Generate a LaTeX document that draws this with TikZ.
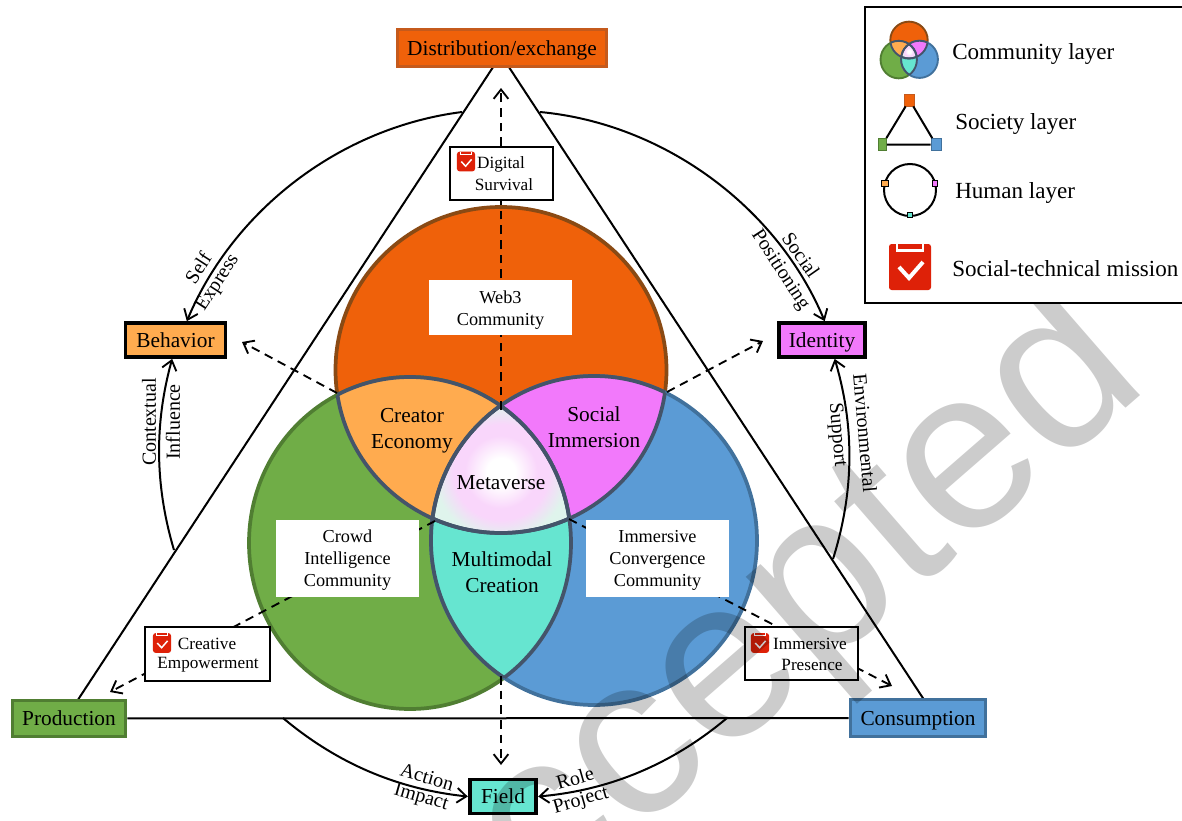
\documentclass[tikz,border=0pt]{standalone}
\usepackage{fontspec}
\setmainfont{Liberation Serif}
\newfontfamily\wmfont{Liberation Sans}
\usetikzlibrary{arrows.meta}

\definecolor{comOrange}{HTML}{EF610A}
\definecolor{comGreen}{HTML}{70AD47}
\definecolor{comBlue}{HTML}{5B9BD5}
\definecolor{lineOrange}{HTML}{8A4A14}
\definecolor{lineGreen}{HTML}{507E32}
\definecolor{lineBlue}{HTML}{41719C}
\definecolor{boxOrange}{HTML}{C55A1C}
\definecolor{lensOrange}{HTML}{FFAB4F}
\definecolor{lensPink}{HTML}{F279FB}
\definecolor{lensTeal}{HTML}{66E5D0}
\definecolor{lensSlate}{HTML}{44546A}
\definecolor{metaPink}{HTML}{F9D6FB}
\definecolor{metaMint}{HTML}{DFF4EC}
\definecolor{missionRed}{HTML}{DE2108}
\definecolor{wmGray}{HTML}{CCCCCC}

\pgfdeclareradialshading{metashade}{\pgfpoint{0bp}{0bp}}{color(0bp)=(white); color(5bp)=(white); color(13bp)=(metaPink); color(17bp)=(metaPink); color(24bp)=(metaMint); color(50bp)=(metaMint)}

\newcommand{\orangepath}{(501,370) ellipse [x radius=165.5,y radius=163]}
\newcommand{\greenpath}{(410,543) ellipse [x radius=161,y radius=166]}
\newcommand{\bluepath}{(594,540.5) ellipse [x radius=163,y radius=164.5]}

% the three circles with their overlaps, #1 is the line width
\newcommand{\vennregions}[1]{
\draw[line width=#1,lineOrange,fill=comOrange] \orangepath;
\draw[line width=#1,lineGreen,fill=comGreen] \greenpath;
\draw[line width=#1,lineBlue,fill=comBlue] \bluepath;
\begin{scope}\clip \orangepath; \fill[lensOrange] \greenpath; \end{scope}
\begin{scope}\clip \orangepath; \fill[lensPink] \bluepath; \end{scope}
\begin{scope}\clip \greenpath; \fill[lensTeal] \bluepath; \end{scope}
\begin{scope}\clip \orangepath; \clip \greenpath; \clip \bluepath;
\shade[shading=metashade] (431,402) rectangle (571,542);
\end{scope}
\begin{scope}\clip \orangepath; \draw[line width=#1,lensSlate] \greenpath; \draw[line width=#1,lensSlate] \bluepath; \end{scope}
\begin{scope}\clip \greenpath; \draw[line width=#1,lensSlate] \orangepath; \draw[line width=#1,lensSlate] \bluepath; \end{scope}
\begin{scope}\clip \bluepath; \draw[line width=#1,lensSlate] \orangepath; \draw[line width=#1,lensSlate] \greenpath; \end{scope}
}

\tikzset{
  sideline/.style={line width=1.5pt,black},
  humanarc/.style={line width=1.5pt,black,-{Straight Barb[length=7pt,width=11pt,line width=1.4pt]},looseness=0.9},
  missionarrow/.style={line width=1.4pt,black,dash pattern=on 6.5pt off 4.5pt,-{Straight Barb[length=7pt,width=11pt,line width=1.4pt]}},
  societybox/.style={draw,line width=2.4pt,inner sep=0pt,font=\fontsize{16}{19.5}\selectfont,minimum height=27.5pt,text height=13pt,text depth=2.5pt},
  humanbox/.style={draw=black,line width=2.8pt,inner sep=0pt,font=\fontsize{16}{19.5}\selectfont,minimum height=25.5pt,text height=13pt,text depth=2.5pt},
  lenstext/.style={inner sep=0pt,align=center,font=\fontsize{16}{19.5}\selectfont},
  whitebox/.style={fill=white,inner sep=0pt,align=center,font=\fontsize{13.7}{16.5}\selectfont,minimum width=107.2pt},
  missionbox/.style={draw=black,fill=white,line width=1.5pt,inner sep=0pt,minimum height=39.8pt},
  missiontext/.style={inner sep=0pt,font=\fontsize{12.9}{15}\selectfont},
  arctext/.style={inner sep=0pt,font=\fontsize{15}{18}\selectfont},
  legendtext/.style={inner sep=0pt,anchor=west,font=\fontsize{17.3}{20}\selectfont},
  legendsquare/.style={draw,line width=0.6pt,inner sep=0pt},
  pics/missionicon/.style={code={
    \fill[missionRed,rounded corners=2pt] (-21,-23) rectangle (21,23);
    \draw[white,line width=#1*0.6] (-13,23) -- (-13,16.5) -- (13,16.5) -- (13,23);
    \draw[white,line width=#1] (-11,0) -- (-1,-11) -- (13,5);
  }},
}

\begin{document}
\begin{tikzpicture}[x=0.75pt,y=0.75pt,yscale=-1,xscale=1]
\useasboundingbox (0,0) rectangle (1182,821);

%Triangle corners and the free ends of the arcs
\coordinate (triTop) at (501,55);
\coordinate (triLeft) at (66,718);
\coordinate (triRight) at (936,718);
\coordinate (arcSelf) at (462,112);
\coordinate (arcSocial) at (540,112);
\coordinate (arcContext) at (174,550);
\coordinate (arcEnviron) at (833,559);
\coordinate (arcAction) at (283,718);
\coordinate (arcRole) at (727,718);

%Straight Lines
\draw[sideline] (triTop) -- (triLeft);
\draw[sideline] (triTop) -- (triRight);

%Society layer and human layer boxes
\node[societybox,draw=boxOrange,fill=comOrange,minimum width=157pt] (dist) at (502,48) {Distribution/exchange};
\node[societybox,draw=lineGreen,fill=comGreen,minimum width=85pt] (prod) at (69,718.5) {Production};
\node[societybox,draw=lineBlue,fill=comBlue,minimum width=101.5pt] (cons) at (918,718) {Consumption};
\node[humanbox,fill=lensOrange,minimum width=75pt] (behav) at (175.5,340) {Behavior};
\node[humanbox,fill=lensPink,minimum width=65pt] (ident) at (822,340) {Identity};
\node[humanbox,fill=lensTeal,minimum width=50pt] (field) at (503,796.5) {Field};
\draw[sideline] (prod) -- (cons);

%Human layer arcs
\draw[humanarc] (arcSelf) to[bend left=30] ([xshift=8.5pt]behav.north);
\draw[humanarc] (arcSocial) to[bend right=31] ([xshift=2pt]ident.north);
\draw[humanarc] (arcContext) to[bend right=16] ([xshift=-2.5pt]behav.south);
\draw[humanarc] (arcEnviron) to[bend left=17] ([xshift=9.5pt]ident.south);
\draw[humanarc] (arcAction) to[bend left=17] (field.west);
\draw[humanarc] (arcRole) to[bend right=17.5] (field.east);

%Community layer
\vennregions{2.8pt}

%Mission arrows
\coordinate (ptTop) at (501,410);
\coordinate (ptBottom) at (501,676);
\coordinate (ptLeft) at (337,393);
\coordinate (ptRight) at (667,392);
\coordinate (ptLowLeft) at (435,521);
\coordinate (ptLowRight) at (569,519);
\coordinate (tipTop) at (501,88);
\coordinate (tipField) at (501,765);
\coordinate (tipBehav) at (242,342);
\coordinate (tipIdent) at (763,341);
\coordinate (tipProd) at (110,692);
\coordinate (tipCons) at (892,686);
\draw[missionarrow] (ptTop) -- (tipTop);
\draw[missionarrow] (ptBottom) -- (tipField);
\draw[missionarrow] (ptLeft) -- (tipBehav);
\draw[missionarrow] (ptRight) -- (tipIdent);
\draw[missionarrow] (ptLowLeft) -- (tipProd);
\draw[missionarrow] (ptLowRight) -- (tipCons);

% Text Node
\node[whitebox,minimum height=41.2pt] (web) at (500.5,307.5) {};
\node[whitebox] (webT) at (500.5,310) {Web3\\Community};
\node[whitebox,minimum height=58pt] (crowd) at (347.5,558.5) {};
\node[whitebox] (crowdT) at (347.5,560.5) {Crowd\\Intelligence\\Community};
\node[whitebox,minimum height=58pt] (immer) at (657.5,558.5) {};
\node[whitebox] (immerT) at (657.5,560.5) {Immersive\\Convergence\\Community};
\node[lenstext] (creator) at (412,431) {Creator\\Economy};
\node[lenstext] (social) at (594,427) {Social\\Immersion};
\node[lenstext] (meta) at (501,483) {Metaverse};
\node[lenstext] (multi) at (502,572) {Multimodal\\Creation};

% Mission boxes
\node[missionbox,minimum width=77.2pt] (survBox) at (501.5,173.5) {};
\pic[scale=0.43] at (466,161.5) {missionicon=1.1pt};
\node[missiontext] (survA) at (501,164.5) {Digital};
\node[missiontext] (survB) at (504,185) {Survival};
\node[missionbox,minimum width=93.8pt] (creaBox) at (207.5,654) {};
\pic[scale=0.43] at (162,643) {missionicon=1.1pt};
\node[missiontext] (creaA) at (207,644) {Creative};
\node[missiontext] (creaB) at (208,665) {Empowerment};
\node[missionbox,minimum width=84.8pt] (presBox) at (801.5,653.5) {};
\pic[scale=0.43] at (760,643) {missionicon=1.1pt};
\node[missiontext] (presA) at (810,644) {Immersive};
\node[missiontext] (presB) at (812,665) {Presence};

% Arc labels
\node[arctext,rotate=57] (self) at (198,268) {Self};
\node[arctext,rotate=57] (expr) at (218,283) {Express};
\node[arctext,rotate=-55] (soci) at (801,255) {Social};
\node[arctext,rotate=-57] (posi) at (780,270) {Positioning};
\node[arctext,rotate=90] (cont) at (149,422) {Contextual};
\node[arctext,rotate=90] (infl) at (173,422) {Influence};
\node[arctext,rotate=-85] (envi) at (865,433) {Environmental};
\node[arctext,rotate=-85] (supp) at (837,435) {Support};
\node[arctext,rotate=-16] (acti) at (427,777) {Action};
\node[arctext,rotate=-16] (impa) at (421,798) {Impact};
\node[arctext,rotate=16] (role) at (575,778) {Role};
\node[arctext,rotate=16] (proj) at (581,801) {Project};

% Watermark
\begin{scope}[blend mode=multiply]
\node[inner sep=0pt,rotate=41,text=wmGray,font={\fontsize{172}{172}\selectfont\wmfont}] (stamp) at (752,655) {Accepted};
\end{scope}

% Legend
\draw[line width=1.6pt,fill=white] (865,7) rectangle (1190,303);
\begin{scope}[shift={(909,50)},scale=0.113,shift={(-501,-458)}]
\vennregions{1.4pt}
\end{scope}
\node[legendtext] (legA) at (952,54) {Community layer};
\node[legendtext] (legB) at (955,124) {Society layer};
\node[legendtext] (legC) at (955,193) {Human layer};
\node[legendtext] (legD) at (952,269) {Social-technical mission};

\node[legendsquare,draw=boxOrange,fill=comOrange,minimum width=7pt,minimum height=9pt] (legTop) at (909.5,100) {};
\node[legendsquare,draw=lineGreen,fill=comGreen,minimum width=6pt,minimum height=9pt] (legLeft) at (882.5,144.5) {};
\node[legendsquare,draw=lineBlue,fill=comBlue,minimum width=7.5pt,minimum height=9pt] (legRight) at (936,144.5) {};
\draw[line width=1.5pt] (legTop) -- (legLeft) -- (legRight) -- (legTop);

\draw[line width=1.5pt] (910,190) circle [radius=26];
\node[legendsquare,draw=black,fill=lensOrange,minimum width=5pt,minimum height=4pt] (legBehav) at (885,183.5) {};
\node[legendsquare,draw=black,fill=lensPink,minimum width=4pt,minimum height=4pt] (legIdent) at (935,183.5) {};
\node[legendsquare,draw=black,fill=lensTeal,minimum width=3.5pt,minimum height=4pt] (legField) at (910,215) {};

\pic at (910,267) {missionicon=3pt};

\end{tikzpicture}
\end{document}
